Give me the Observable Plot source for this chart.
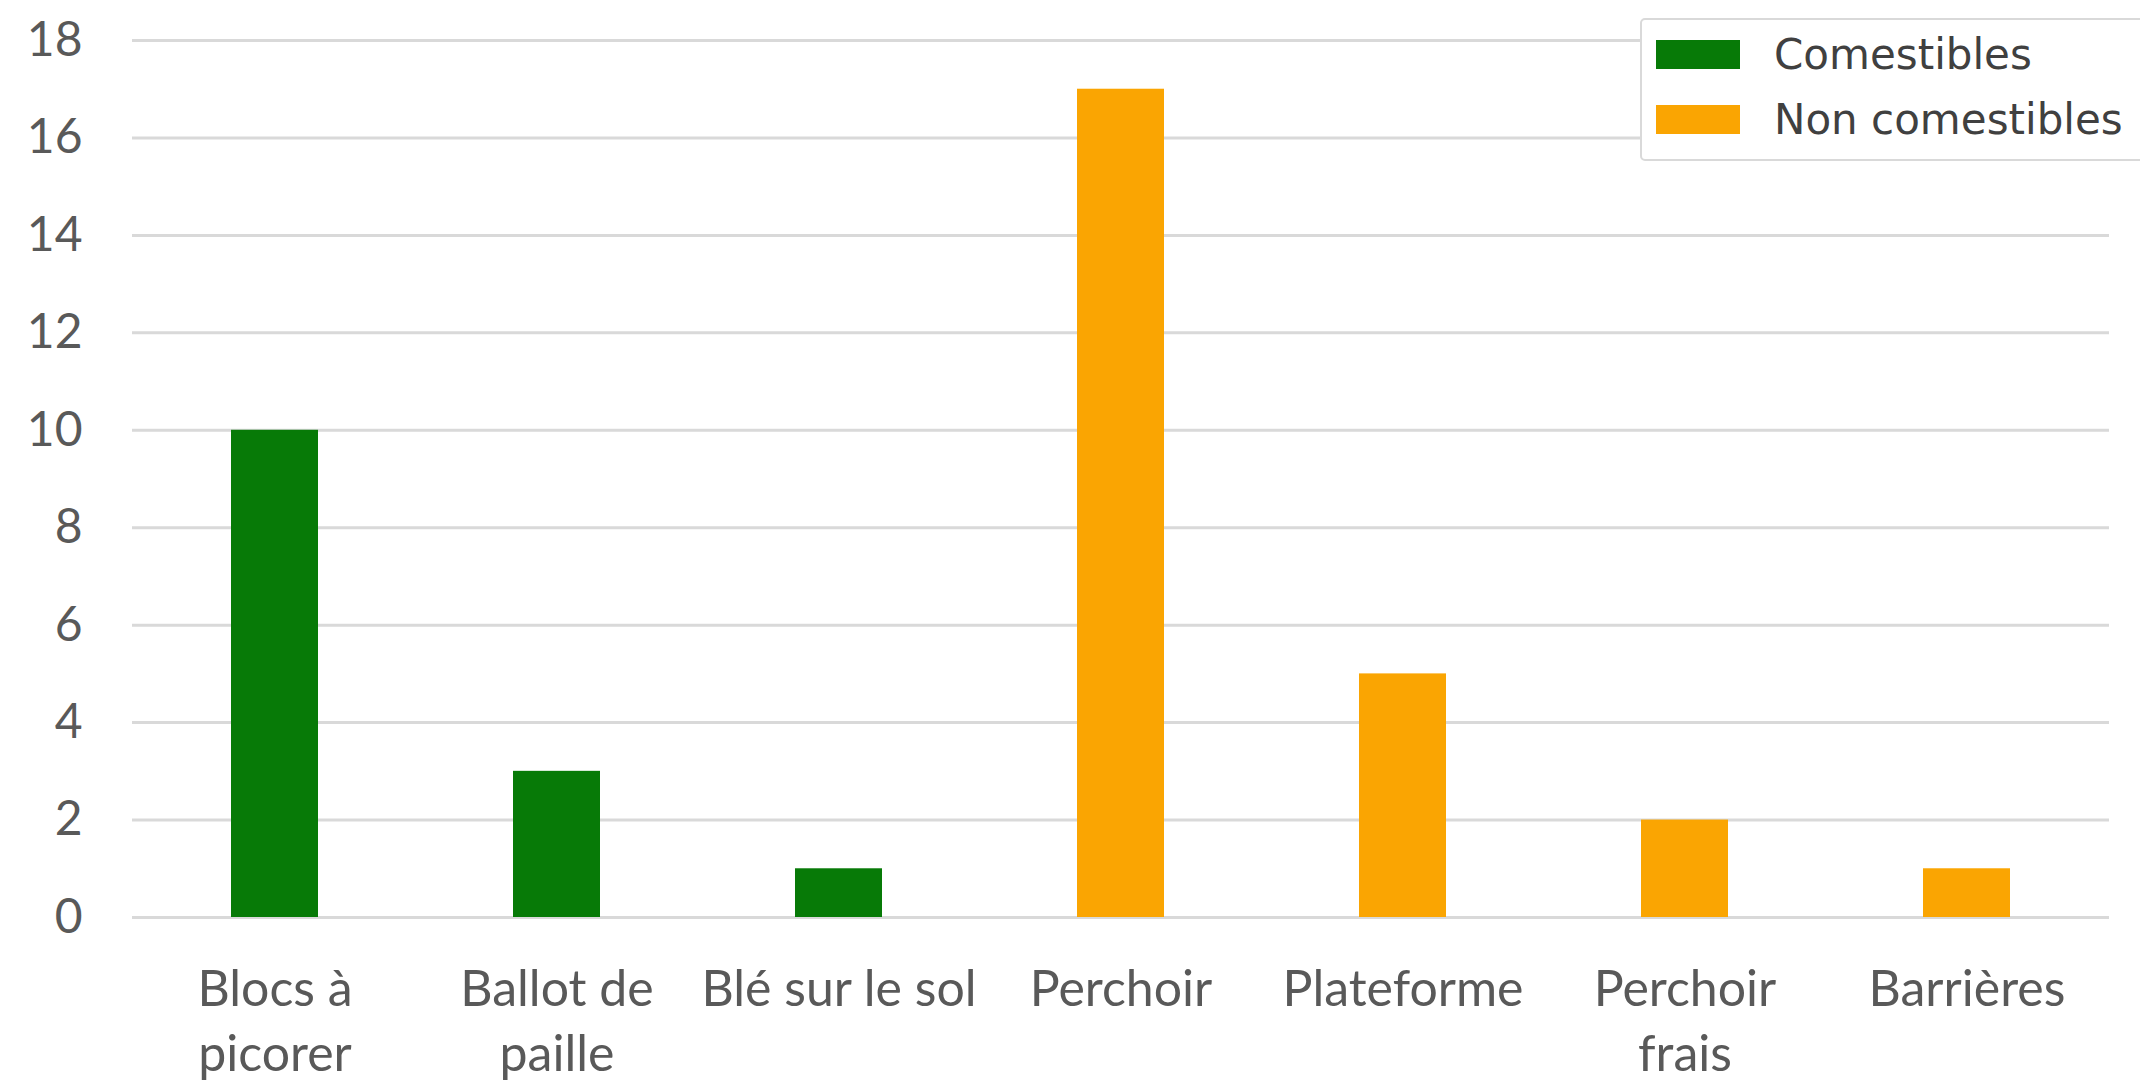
<!DOCTYPE html>
<html>
<head>
<meta charset="utf-8">
<script src="https://cdn.jsdelivr.net/npm/d3@7"></script>
<script src="https://cdn.jsdelivr.net/npm/@observablehq/plot@0.6"></script>
<style>
  html, body { margin: 0; padding: 0; background: #fff; }
  #wrap { position: relative; width: 2140px; height: 1081px; overflow: hidden; }
  #legend {
    position: absolute; left: 1640px; top: 18px; width: 560px; height: 143px;
    border: 2px solid #d9d9d9; border-radius: 5px; background: #fff; box-sizing: border-box;
    font-family: "DejaVu Sans", sans-serif; font-size: 42px; color: #404040;
  }
  .item { position: absolute; left: 14px; display: flex; align-items: center; height: 46px; }
  .sw { width: 84px; height: 29px; margin-right: 34px; }
</style>
</head>
<body>
<div id="wrap">
  <div id="chart"></div>
  <div id="legend"></div>
</div>
<script>
const categories = ["Blocs à picorer", "Ballot de paille", "Blé sur le sol", "Perchoir", "Plateforme", "Perchoir frais", "Barrières"];
const tickLabels = ["Blocs à\npicorer", "Ballot de\npaille", "Blé sur le sol", "Perchoir", "Plateforme", "Perchoir\nfrais", "Barrières"];
const values = [10, 3, 1, 17, 5, 2, 1];
const groups = ["Comestibles", "Comestibles", "Comestibles", "Non comestibles", "Non comestibles", "Non comestibles", "Non comestibles"];
const seriesNames = ["Comestibles", "Non comestibles"];
const seriesColors = ["#077a07", "#faa502"];
const yTicks = [0, 2, 4, 6, 8, 10, 12, 14, 16, 18];

const data = categories.map((c, i) => ({category: c, value: values[i], group: groups[i]}));

const chart = Plot.plot({
  width: 2140,
  height: 1081,
  marginLeft: 132,
  marginRight: 31,
  marginTop: 40,
  marginBottom: 164,
  style: {fontFamily: "Lato, sans-serif", background: "#fff"},
  x: {domain: categories, paddingInner: 0.69, paddingOuter: 0.35, label: null},
  y: {domain: [0, 18], label: null},
  color: {domain: seriesNames, range: seriesColors},
  marks: [
    Plot.gridY(yTicks, {stroke: "#d9d9d9", strokeOpacity: 1, strokeWidth: 3}),
    Plot.barY(data, {x: "category", y: "value", fill: "group"}),
    Plot.axisY(yTicks, {tickSize: 0, tickPadding: 50, fontSize: 48, fill: "#595959", label: null}),
    Plot.axisX({tickSize: 0, tickPadding: 42, fontSize: 50, fill: "#595959", lineHeight: 1.3,
      tickFormat: (d) => tickLabels[categories.indexOf(d)], label: null})
  ]
});
document.getElementById("chart").appendChild(chart);

const legend = document.getElementById("legend");
seriesNames.forEach((name, i) => {
  const item = document.createElement("div");
  item.className = "item";
  item.style.top = (i === 0 ? 11 : 76) + "px";
  const sw = document.createElement("div");
  sw.className = "sw";
  sw.style.background = seriesColors[i];
  const t = document.createElement("span");
  t.textContent = name;
  item.appendChild(sw);
  item.appendChild(t);
  legend.appendChild(item);
});
</script>
</body>
</html>
